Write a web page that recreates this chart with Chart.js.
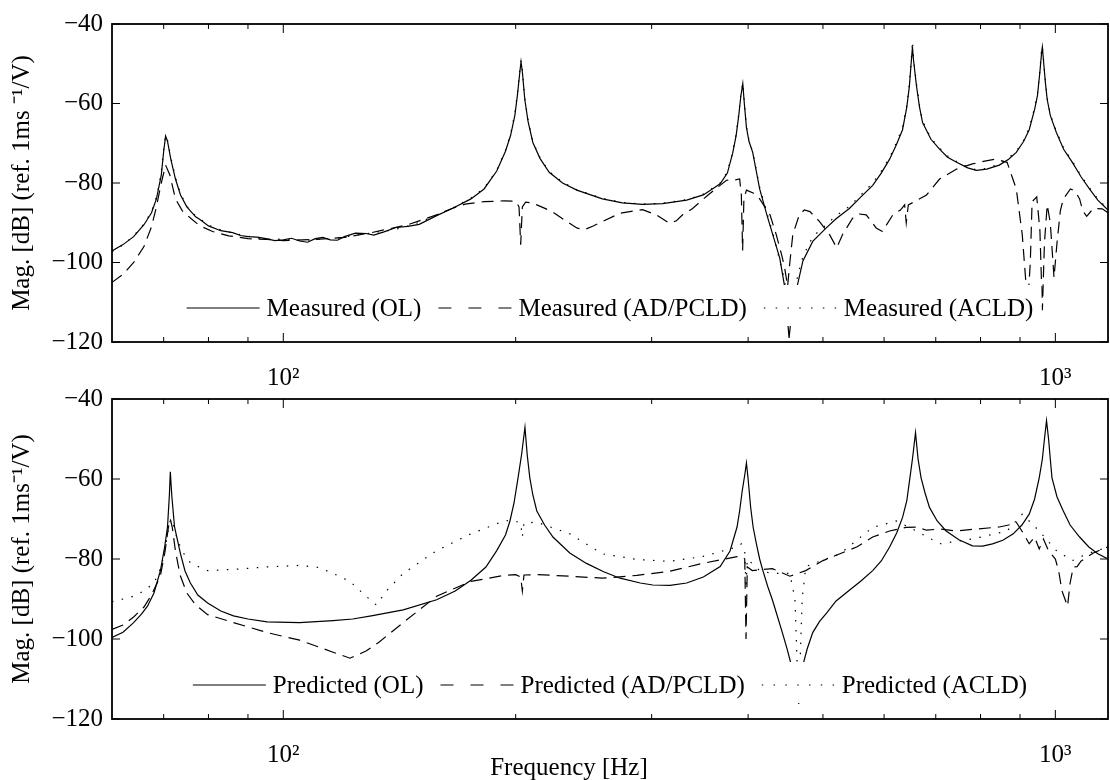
<!DOCTYPE html>
<html>
<head>
<meta charset="utf-8">
<script src="https://cdn.jsdelivr.net/npm/chart.js@4.4.1/dist/chart.umd.min.js"></script>
<style>
body { margin: 0; background: #fff; }
#wrap { position: relative; width: 1110px; height: 780px; }
canvas { position: absolute; left: 0; }
#top { top: 0; }
#bottom { top: 375px; }
</style>
</head>
<body>
<div id="wrap">
<canvas id="top" width="1110" height="390"></canvas>
<canvas id="bottom" width="1110" height="405"></canvas>
</div>
<script>
"use strict";

// axes
const xMin = 60, xMax = 1170;
const xTickVals = [60, 70, 80, 90, 100, 200, 300, 400, 500, 600, 700, 800, 900, 1000];
const xTickLabels = { 100: '10\u00b2', 1000: '10\u00b3' };
const yTickVals = [-120, -100, -80, -60, -40];

// measured (top)
const measFreq = [60,62,64,66,67.5,68.5,69.5,70,70.4,70.8,71.5,72.5,73.6,75,77,78,80,83,86,88,90,92.5,95,97.5,100,102.5,105,107.5,110,112.5,115,117.5,120,124,128,131,135,140,145,150,158,166,175,182,189,194,197,199.5,201,202.5,203.2,204,205.5,207.5,210.5,215,221,230,240,259,275,292,310,333,350,368,376,382,386,389,391.5,393.7,395.5,398,401,405.5,414,423,430.5,439.6,446,452,458,463,471,485,505,520,541,560,580,595,610,622,634,642,647,651,653,655,661,667,673,690,708,725,745,770,790,815,846,870,890,910,925,940,948,955,960,962,966,971,976,985,1003,1025,1052,1080,1107,1135,1170];
const measOL = [-97.1,-95.5,-93.5,-90.5,-87.5,-84,-78,-72,-68.2,-69.5,-74,-79,-83,-86,-88.5,-89.2,-90.8,-92,-92.5,-93.2,-93.5,-93.6,-94,-94.5,-94.3,-93.9,-94.6,-94.9,-94,-93.7,-94.3,-94.4,-93.5,-92.6,-92.7,-93.1,-92.3,-91.2,-90.9,-90.4,-88.2,-86.3,-84,-81.5,-77,-72,-68,-63,-58,-52,-49.5,-52,-59,-64.5,-69.8,-73.8,-77.3,-80,-81.8,-84,-85,-85.4,-85.2,-84.3,-83,-80.2,-77.5,-72.5,-68,-63,-58,-55,-60,-66,-69.5,-72.3,-81.5,-88,-93,-98.9,-106,-119,-108,-106,-99.6,-94.7,-91.3,-89,-86.4,-83.5,-80.6,-77.5,-74,-70.5,-66.6,-61,-55.7,-49,-45.8,-49,-55.7,-61,-64.8,-69,-71.5,-73.5,-74.8,-76.2,-76.8,-76.5,-75.5,-74,-72.3,-69.5,-66.6,-61.5,-58,-52,-47,-45.8,-50,-55,-59,-63,-67.3,-71.5,-74.8,-78.5,-81.5,-84.3,-86.8];
const measACLD = [-97.3,-95.6,-93.3,-90.3,-87.2,-83.5,-77.5,-71.5,-68,-69.2,-73.5,-78.6,-82.7,-85.8,-88.3,-89,-90.6,-91.8,-92.6,-93,-93.4,-93.9,-94.1,-94.1,-94.2,-94.3,-94.4,-94.4,-94.1,-94.2,-94.2,-93.8,-93.6,-93.1,-92.8,-92.4,-92.2,-91.6,-90.8,-89.9,-88.1,-86.2,-83.8,-81.3,-76.8,-71.7,-67.6,-62.5,-57.5,-51.5,-49.2,-51.7,-58.7,-64.2,-69.6,-73.6,-77.1,-79.8,-81.7,-83.9,-84.9,-85.3,-85.1,-84.2,-82.8,-80,-77.2,-72.2,-67.6,-62.6,-57.5,-54.8,-59.7,-65.7,-69.3,-72.1,-81,-87.5,-92.5,-99.5,-104.5,-112,-110,-104,-98.5,-93.5,-90.5,-88.2,-85.9,-83,-80,-77,-73.6,-70,-66,-60.5,-55,-48.5,-44.3,-48.5,-55.2,-60.6,-64.4,-68.7,-71.2,-73.2,-74.6,-76,-76.7,-76.3,-75.2,-73.7,-72,-69.2,-66.2,-61,-57.5,-51.5,-46,-45.6,-49.6,-54.6,-58.7,-62.7,-67,-71.2,-74.5,-78.2,-81.2,-84,-86.6];
const measFreqAD = [60,62,64,66,67.5,68.5,69.5,70.4,71.3,72.5,74,76,78,81,85,90,95,100,110,120,130,145,158,166,172,182,193,200,202,203,204,206,210,216,223,232,240,245,252,259,273,292,304,316,323,329,339,355,375,385,390,392,393.5,395,398,406,414,427,435,442,446,450,453,457,466,473,481,495,510,521,530,546,557,569,586,597,616,630,638,641,645,660,681,708,745,781,810,837,866,890,906,915,920,928,933,946,955,962,968,976,985,996,1005,1015,1024,1046,1060,1075,1085,1098,1120,1150,1170];
const measAD = [-105,-103,-100,-96,-91,-86,-80,-75.5,-78,-84,-87,-89,-90.8,-92.2,-93.3,-94,-94.2,-94.5,-94.2,-93.7,-92.5,-90.5,-88,-86.3,-85.3,-84.7,-84.5,-84.6,-86,-95.5,-86,-84.8,-85,-86,-87.2,-89.5,-91.3,-91.8,-90.8,-89.7,-87.6,-86.7,-88,-90.1,-89.5,-88,-86.4,-83,-79.3,-79.2,-79,-83,-97,-84,-81.8,-82.5,-84,-88,-93,-98,-101.3,-106,-100,-93,-88,-86.8,-87.2,-89.7,-93,-96.3,-93,-88.9,-87.8,-88,-91.3,-92.2,-88,-86.8,-85.5,-90,-85.5,-84.5,-83,-79,-76.5,-75.2,-74.5,-74,-74.8,-81.5,-93,-104,-112,-100,-84.7,-83.5,-92,-112,-95,-85.5,-90,-103.8,-95,-87,-84,-81.5,-82,-84,-87,-88.4,-86.4,-86.5,-87.5];

// predicted (bottom)
const predFreqOL = [60,62,64,65.5,66.7,68,69.3,70.2,70.8,71.2,71.4,71.7,72.3,73.6,74.6,75.8,77.5,79.8,83,86.2,90,95.3,105,116,123,130,143,158,167,175,183,189,194,196.6,199,201.4,203.5,205.6,207,208.6,210.5,213,218,223.5,235,247,260,273,290,301,317,333,350,368,379,387,390,393,396,398,400,403,406,410,414,418,424,430,436,443,449,455,463,467,471,477,485,495,506,520,541,560,580,595,610,623,634,642,647,653,659,664,670,678,687,703,722,750,781,805,829,855,882,905,925,940,953,962,968,974,980,985,990,1005,1024,1045,1075,1105,1135,1170];
const predOL = [-99.6,-98.3,-95.9,-93.8,-91.8,-88.5,-83,-77,-72,-64,-58.2,-64,-72,-78.7,-83,-86,-89,-91,-93,-94.2,-95,-95.7,-95.9,-95.4,-95,-94.2,-92.7,-90.2,-88,-85.3,-82,-77.9,-74,-70.5,-66,-59.7,-54,-47.1,-54,-59.7,-64,-68,-71.5,-74.5,-78.5,-81.1,-83.2,-84.8,-86,-86.5,-86.6,-86,-84.5,-81.9,-78,-72,-68,-63,-59,-56,-60,-67,-72,-76.2,-80,-82.9,-86.8,-90.2,-94,-98.4,-102.3,-106.5,-112,-112,-106.5,-102.5,-98.4,-95.6,-93.4,-90.5,-87.8,-85.5,-82.9,-80.5,-77,-73.5,-69.6,-65.5,-60.7,-55,-48.4,-55,-59.7,-63.5,-67.1,-70.5,-73,-75.2,-76.7,-76.8,-76.2,-75.3,-73.7,-71.5,-68.8,-65,-59.7,-55,-50,-45.4,-50,-55,-59.7,-64.5,-68,-71.5,-74.5,-77,-78.7,-80];
const predFreqAD = [60,62,64,66,67.5,69.3,70.3,71,71.4,71.8,72.5,73.5,75,77,79.8,86.2,95.3,105,116,122,128,133,143,158,175,193,200,203,204,205,213,235,259,287,316,349,387,393,396,397.5,399,405,430,453,475,500,526,553,580,610,641,661,681,708,745,781,846,870,890,905,925,940,953,965,980,1000,1010,1020,1037,1045,1055,1067,1080,1100,1120,1150,1170];
const predAD = [-97.6,-96.5,-94.5,-92,-89,-84.3,-78,-72,-70,-72,-78,-84,-88.5,-91.5,-93.9,-95.9,-98.4,-100.3,-103.3,-104.8,-103,-100.8,-95.9,-89.3,-85.6,-84.1,-83.9,-84.5,-88,-84,-83.9,-84.3,-84.8,-84.1,-83.1,-81.1,-79.4,-79.4,-80,-100,-82,-82.9,-82.4,-84.3,-82.9,-80.4,-78.7,-77,-74.5,-73,-72.1,-72,-72.8,-72.5,-73,-72.6,-72,-71.5,-70.8,-73,-76.2,-74.5,-77.5,-75,-78,-80,-83,-88,-91.8,-86,-82,-81.9,-80.5,-79.5,-78.5,-77.5,-77];
const predFreqACLD = [60,62,64,66,68,69.5,70.5,71.2,71.6,72.2,73,74.5,75.9,79.8,86.2,95,100,105,111,116,122,128,132,136,143,158,175,193,198,203,204,205,213,235,259,287,316,349,387,392,396,397.5,399,414,430,453,460,465,470,475,526,580,622,661,708,781,866,906,953,1003,1052,1100,1170];
const predACLD = [-90.7,-90,-89.3,-88,-86,-82,-76,-71,-70,-72,-75.5,-79,-81.1,-82.9,-82.6,-82,-81.8,-81.6,-82.1,-83.6,-85.6,-89.3,-91.5,-88,-83.6,-77.9,-73.7,-70.5,-70.3,-71,-74.5,-71,-70.8,-73.7,-78.7,-80.1,-80.6,-79.4,-77,-76.2,-78,-87.3,-80,-82.9,-83.6,-83.6,-90,-117,-90,-81.9,-78.7,-72.1,-70.5,-73,-76.2,-75,-73,-68.8,-73,-77.9,-80.4,-78.7,-77];

const serif = "'Liberation Serif', 'Times New Roman', serif";
const FONT = 25;
const lineDash = { solid: [], dashed: [12, 7], dotted: [1.5, 8.5] };
const keyDash = { solid: [], dashed: [13, 17], dotted: [1.5, 10.3] };

function pts(xs, ys) {
    return xs.map((x, i) => ({ x: x, y: ys[i] }));
}

function series(label, xs, ys, style) {
    return {
        label: label,
        data: pts(xs, ys),
        style: style,
        borderColor: '#000',
        borderWidth: 1.2,
        borderDash: lineDash[style],
        pointRadius: 0,
        tension: 0,
        fill: false
    };
}

// legend drawn inside the plot, on a white patch
const innerLegend = {
    id: 'innerLegend',
    afterDatasetsDraw(chart) {
        const ctx = chart.ctx, a = chart.chartArea;
        const cy = a.bottom - 33;
        const sample = 73, gap = 7, sep = 17;
        ctx.save();
        ctx.font = FONT + 'px ' + serif;
        const items = chart.data.datasets.map(ds => ({ label: ds.label, style: ds.style, w: ctx.measureText(ds.label).width }));
        const total = items.reduce((s, it) => s + sample + gap + it.w, 0) + sep * (items.length - 1);
        let x = (a.left + a.right) / 2 - total / 2;
        ctx.fillStyle = '#fff';
        ctx.fillRect(x - 8, cy - 24, total + 16, 41);
        ctx.fillStyle = '#000';
        ctx.strokeStyle = '#000';
        ctx.lineWidth = 1.2;
        ctx.textBaseline = 'middle';
        ctx.textAlign = 'left';
        items.forEach(it => {
            ctx.setLineDash(keyDash[it.style]);
            ctx.beginPath();
            ctx.moveTo(x, cy - 1);
            ctx.lineTo(x + sample, cy - 1);
            ctx.stroke();
            ctx.fillText(it.label, x + sample + gap, cy);
            x += sample + gap + it.w + sep;
        });
        ctx.restore();
    }
};

// box and inward ticks, matlab style
const frame = {
    id: 'frame',
    afterDraw(chart) {
        const ctx = chart.ctx, a = chart.chartArea;
        const xs = chart.scales.x, ys = chart.scales.y;
        ctx.save();
        ctx.strokeStyle = '#000';
        ctx.lineWidth = 1;
        ctx.beginPath();
        xTickVals.forEach(v => {
            const px = xs.getPixelForValue(v);
            if (px <= a.left + 1) return;
            const len = xTickLabels[v] ? 9 : 5;
            ctx.moveTo(px, a.bottom); ctx.lineTo(px, a.bottom - len);
            ctx.moveTo(px, a.top); ctx.lineTo(px, a.top + len);
        });
        yTickVals.forEach(v => {
            const py = ys.getPixelForValue(v);
            ctx.moveTo(a.left, py); ctx.lineTo(a.left + 8, py);
            ctx.moveTo(a.right, py); ctx.lineTo(a.right - 8, py);
        });
        ctx.stroke();
        ctx.lineWidth = 1.8;
        ctx.strokeRect(a.left, a.top, a.right - a.left, a.bottom - a.top);
        const xt = chart.options.plugins.frame.xTitle;
        if (xt) {
            ctx.fillStyle = '#000';
            ctx.font = FONT + 'px ' + serif;
            ctx.textAlign = 'center';
            ctx.textBaseline = 'middle';
            ctx.fillText(xt, 569, a.bottom + 49);
        }
        ctx.restore();
    }
};

function makeChart(id, datasets, yTitle, padTop, xHeight, xTitle) {
    const ctx = document.getElementById(id).getContext('2d');
    return new Chart(ctx, {
        type: 'line',
        data: { datasets: datasets },
        options: {
            responsive: false,
            animation: false,
            events: [],
            layout: { padding: { left: 0, right: 2, top: padTop, bottom: 0 } },
            scales: {
                x: {
                    type: 'logarithmic',
                    min: xMin,
                    max: xMax,
                    grid: { display: false, drawTicks: false },
                    border: { display: false },
                    afterBuildTicks: s => { s.ticks = xTickVals.map(v => ({ value: v })); },
                    afterFit: s => { s.height = xHeight; },
                    ticks: {
                        autoSkip: false,
                        maxRotation: 0,
                        padding: 21,
                        color: '#000',
                        font: { family: serif, size: FONT },
                        callback: v => xTickLabels[v] || ''
                    }
                },
                y: {
                    min: -120,
                    max: -40,
                    grid: { display: false, drawTicks: false },
                    border: { display: false },
                    afterBuildTicks: s => { s.ticks = yTickVals.map(v => ({ value: v })); },
                    afterFit: s => { s.width = 112; },
                    ticks: {
                        padding: 9,
                        color: '#000',
                        font: { family: serif, size: FONT },
                        callback: v => (v < 0 ? '\u2212' + Math.abs(v) : String(v))
                    },
                    title: {
                        display: true,
                        text: yTitle,
                        color: '#000',
                        font: { family: serif, size: FONT },
                        padding: { top: 7, bottom: 0 }
                    }
                }
            },
            plugins: {
                legend: { display: false },
                tooltip: { enabled: false },
                frame: { xTitle: xTitle }
            }
        },
        plugins: [innerLegend, frame]
    });
}

makeChart('top', [
    series('Measured (OL)', measFreq, measOL, 'solid'),
    series('Measured (AD/PCLD)', measFreqAD, measAD, 'dashed'),
    series('Measured (ACLD)', measFreq, measACLD, 'dotted')
], 'Mag. [dB] (ref. 1ms \u207b\u00b9/V)', 20, 48, null);

makeChart('bottom', [
    series('Predicted (OL)', predFreqOL, predOL, 'solid'),
    series('Predicted (AD/PCLD)', predFreqAD, predAD, 'dashed'),
    series('Predicted (ACLD)', predFreqACLD, predACLD, 'dotted')
], 'Mag. [dB] (ref. 1ms\u207b\u00b9/V)', 18, 61, 'Frequency [Hz]');
</script>
</body>
</html>
